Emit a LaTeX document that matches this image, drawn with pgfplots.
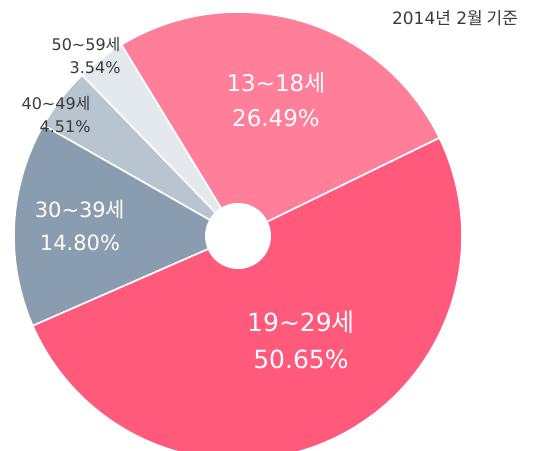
\documentclass[border=0pt]{standalone}
\usepackage{pgfplots}
\pgfplotsset{compat=1.18}
\usepackage{fontspec}
\setmainfont{DejaVu Sans}
\newfontfamily\kr{Noto Sans CJK KR}
\definecolor{cA}{HTML}{FF7E9A}
\definecolor{cB}{HTML}{FF5A7B}
\definecolor{cC}{HTML}{8A9DB0}
\definecolor{cD}{HTML}{B8C4CF}
\definecolor{cE}{HTML}{E4E9EE}
\definecolor{txt}{HTML}{3A3A3A}
% values (percent), counter-clockwise from the start angle
\def\vA{26.49}% 13~18
\def\vE{3.54}%  50~59
\def\vD{4.51}%  40~49
\def\vC{14.80}% 30~39
\def\vB{50.65}% 19~29
\def\startangle{26}
\def\R{224}
\newcommand\se{{\kr 세}}
\begin{document}
\begin{tikzpicture}
\pgfmathsetmacro\aA{\startangle}
\pgfmathsetmacro\aB{\aA+3.6*\vA}
\pgfmathsetmacro\aC{\aB+3.6*\vE}
\pgfmathsetmacro\aD{\aC+3.6*\vD}
\pgfmathsetmacro\aE{\aD+3.6*\vC}
\pgfmathsetmacro\aF{\aE+3.6*\vB}
\begin{axis}[
  x=1pt, y=1pt,
  xmin=-238, xmax=299, ymin=-214, ymax=236,
  hide axis, scale only axis, clip=true,
]
\newcommand\slice[3]{%
  \fill[#3, draw=white, line width=1.6pt] (axis cs:0,0) -- (axis cs:{\R*cos(#1)},{\R*sin(#1)})
    arc[start angle=#1, end angle=#2, radius=\R pt] -- cycle;}
\slice{\aA}{\aB}{cA}
\slice{\aB}{\aC}{cE}
\slice{\aC}{\aD}{cD}
\slice{\aD}{\aE}{cC}
\slice{\aE}{\aF}{cB}
\fill[white] (axis cs:0,0) circle[radius=33pt];
\path (axis cs:-238,-214) rectangle (axis cs:299,236);
\node[white, align=center, font=\fontsize{23}{35}\selectfont] at (axis cs:38,136) {13\textasciitilde18\se\\26.49\%};
\node[white, align=center, font=\fontsize{25}{37}\selectfont] at (axis cs:63,-104) {19\textasciitilde29\se\\50.65\%};
\node[white, align=center, font=\fontsize{21}{33}\selectfont] at (axis cs:-158,11) {30\textasciitilde39\se\\14.80\%};
\node[txt, align=right, anchor=east, font=\fontsize{16}{23}\selectfont] at (axis cs:-114,180) {50\textasciitilde59\se\\3.54\%};
\node[txt, align=right, anchor=east, font=\fontsize{16}{23}\selectfont] at (axis cs:-144,122) {40\textasciitilde49\se\\4.51\%};
\node[txt, font=\fontsize{17}{20}\selectfont] at (axis cs:217,218) {2014{\kr 년} 2{\kr 월 기준}};
\end{axis}
\end{tikzpicture}
\end{document}
